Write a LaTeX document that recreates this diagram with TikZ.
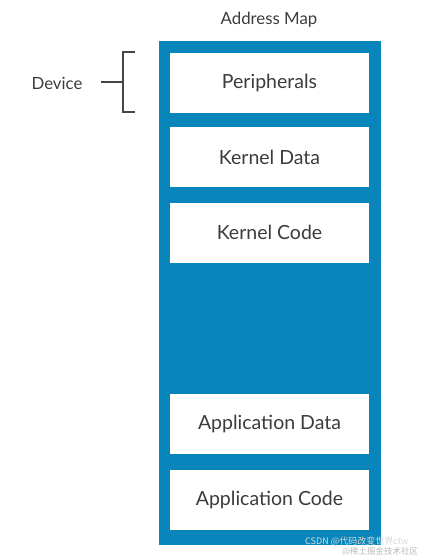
\documentclass[tikz,border=0pt]{standalone}
\usepackage{fontspec}
\setmainfont{Lato}
\newfontfamily\cjk{Noto Sans CJK SC}
\definecolor{mapblue}{RGB}{8,134,188}
\definecolor{txtgray}{RGB}{60,60,60}
\definecolor{brk}{RGB}{70,70,70}
\tikzset{
  seg/.style={fill=white, draw=none, minimum width=199pt, minimum height=60pt, inner sep=0pt, font=\fontsize{19.5}{22}\selectfont, text=txtgray},
  lbl/.style={font=\fontsize{16.8}{19}\selectfont, text=txtgray, inner sep=0pt},
  wm/.style={font=\cjk\fontsize{9}{10}\selectfont, inner sep=0pt}
}
\begin{document}
\begin{tikzpicture}[x=1pt,y=-1pt]
\useasboundingbox (0,0) rectangle (422,555);
\node[lbl] (title) at (269,20) {Address Map};
\node[fill=mapblue, minimum width=222pt, minimum height=504pt, inner sep=0pt] (map) at (270,293) {};
\node[seg] (per) at (269.5,82.5) {Peripherals};
\node[seg] (kd) at (269.5,157) {Kernel Data};
\node[seg] (kc) at (269.5,232.5) {Kernel Code};
\node[seg] (ad) at (269.5,424) {Application Data};
\node[seg] (ac) at (269.5,499.5) {Application Code};
\node[lbl] (dev) at (57,83) {Device};
\coordinate (bt) at (135,52);
\coordinate (bb) at (135,112);
\coordinate (bm) at (123,82);
\coordinate (bl) at (101,82);
\draw[brk, line width=1.6pt] (bt) -- (bt -| bm) -- (bb -| bm) -- (bb);
\draw[brk, line width=1.6pt] (bl) -- (bm);
\node[wm, text=white!70!gray, anchor=west] (wm1) at (305,541) {CSDN @代码改变世界ctw};
\node[wm, text=gray!55, anchor=west, font=\cjk\fontsize{8.5}{9}\selectfont] (wm2) at (342,552) {@稀土掘金技术社区};
\end{tikzpicture}
\end{document}
